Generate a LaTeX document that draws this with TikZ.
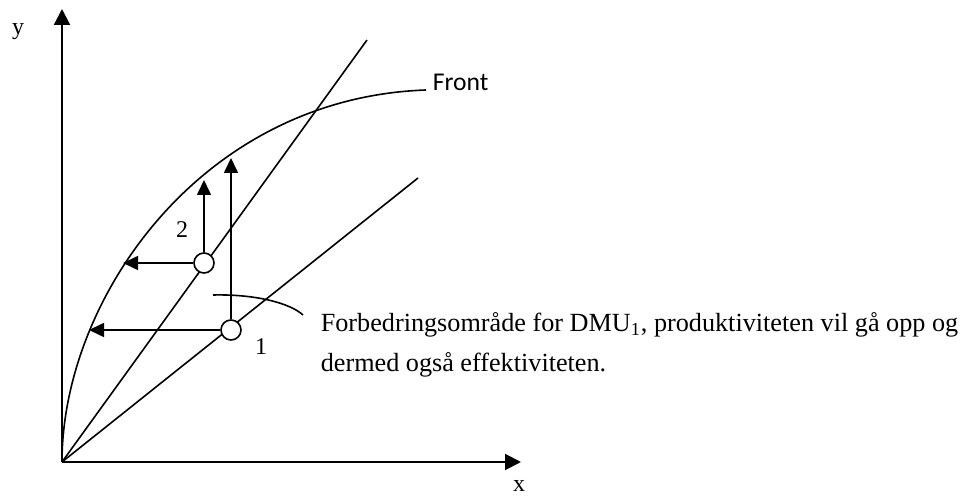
\documentclass[tikz,border=0pt]{standalone}
\usepackage{fontspec}
\setmainfont{Liberation Serif}
\newfontfamily\calfont{Carlito}
\usetikzlibrary{arrows.meta,positioning}

\begin{document}
\begin{tikzpicture}[x=0.5pt,y=-0.5pt, line width=0.8pt,
    every node/.style={font=\fontsize{12}{14}\selectfont},
    dmu/.style={circle,draw,fill=white,inner sep=0pt,minimum size=10pt},
    arr/.style={-{Triangle[length=7.5pt,width=7pt]}},
    axarr/.style={-{Triangle[length=8pt,width=8pt]},line width=1pt}]
  \useasboundingbox (0,0) rectangle (971,496);
  % axes
  \coordinate (o) at (62,462);
  \coordinate (ytip) at (62,9);
  \coordinate (xtip) at (521,462);
  \draw[axarr] (o) -- (ytip);
  \draw[axarr] (o) -- (xtip);
  \node (ylab) at (18,32) {y};
  \node (xlab) at (519,486) {x};

  % rays and front
  \coordinate (r2) at (367,40);
  \coordinate (r1) at (418,178);
  \draw (o) -- (r2);
  \draw (o) -- (r1);
  \draw (o) .. controls (62,300) and (200,98) .. (426,90) coordinate (fe);
  \node[anchor=west,inner sep=0pt,font=\calfont\fontsize{12.8}{14}\selectfont] (front) at (432,82) {Front};

  % the two units
  \node[dmu] (d2) at (204,263) {};
  \node[dmu] (d1) at (231,330) {};
  \node (l2) at (182,230) {2};
  \node (l1) at (261,347) {1};

  \coordinate (f2w) at (123,263);
  \coordinate (f2n) at (204,180);
  \coordinate (f1w) at (89,330);
  \coordinate (f1n) at (231,158);
  \draw[arr] (d2) -- (f2w);
  \draw[arr] (d2) -- (f2n);
  \draw[arr] (d1) -- (f1w);
  \draw[arr] (d1) -- (f1n);

  % callout
  \coordinate (c0) at (213,295);
  \coordinate (c1) at (303,315);
  \draw (c0) .. controls (255,294) and (290,303) .. (c1);
  \node[anchor=base west,align=left,inner sep=0pt,font=\fontsize{13.1}{20}\selectfont] (note) at (320,372)
    {Forbedringsområde for DMU\textsubscript{1}, produktiviteten vil gå opp og\\dermed også effektiviteten.};
\end{tikzpicture}
\end{document}
